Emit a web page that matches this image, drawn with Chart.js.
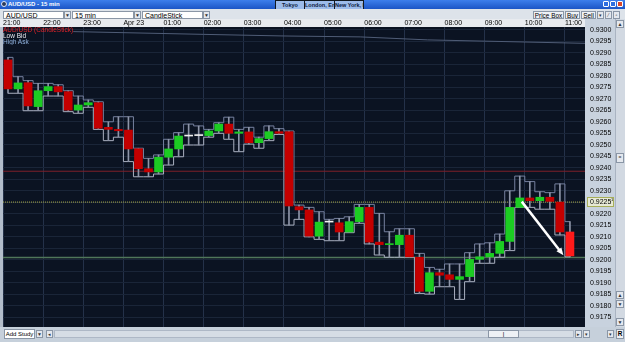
<!DOCTYPE html>
<html>
<head>
<meta charset="utf-8">
<script src="https://cdn.jsdelivr.net/npm/chart.js@4.4.1/dist/chart.umd.min.js"></script>
<style>
body{margin:0;width:625px;height:342px;overflow:hidden;background:#c9d3de;position:relative;font-family:"Liberation Sans",Arial,sans-serif}
.a{position:absolute;box-sizing:border-box;white-space:nowrap;overflow:hidden}
#titlebar{left:0;top:0;width:625px;height:9px;background:linear-gradient(#3d7fec,#1b55c6)}
#ttl{left:8px;top:0;font-size:6px;line-height:9px;color:#fff;font-weight:bold}
#ico{left:1px;top:1px;width:6px;height:6px;border-radius:3px;background:#2a3a5a;border:1px solid #dfe8f8}
.clk{top:0;height:17px;border:1px solid #101820;background:#d9dee6}
.clk .c{left:0;top:0;width:100%;height:8px;background:#9cbbea;font-size:5.5px;line-height:8px;text-align:center;color:#0a1a40;font-weight:bold}
.clk .v{left:1px;top:9px;right:1px;height:6px;background:#fff;border:1px solid #606870;font-size:4.5px;line-height:5px;text-align:center;color:#000}
.wb{top:1px;width:6px;height:6px;border:1px solid #fff;border-radius:1px;background:#2f6fe0}
#toolbar{left:0;top:9px;width:625px;height:10px;background:#dde3ea}
.dd{top:11px;height:8px;background:#fff;border:1px solid #8a96a6;font-size:7px;line-height:7px;padding-left:2px;color:#000}
.db{top:11px;height:8px;width:7px;background:#e4e8ee;border:1px solid #8a96a6;font-size:5px;line-height:6px;text-align:center;color:#333}
.btn{top:11px;height:8px;background:#eef1f5;border:1px solid #8a96a6;font-size:6.4px;line-height:7px;text-align:center;color:#000}
#legend{left:3px;top:27px;font-size:6.5px;line-height:6px}
#vscroll{left:615px;top:19px;width:10px;height:308px;background:#d2d9e2;border-left:1px solid #aab4c2}
#bottombar{left:0;top:327px;width:625px;height:15px;background:#c6d0db}
canvas{position:absolute;left:0;top:19px}
</style>
</head>
<body>
<div class="a" id="titlebar"></div>
<div class="a" id="ico"></div>
<div class="a" id="ttl">AUD/USD - 15 min</div>
<div class="a clk" style="left:275px;width:30px"><div class="a c">Tokyo</div><div class="a v">Fri 7:06 pm</div></div>
<div class="a clk" style="left:304px;width:31px"><div class="a c">London, Eng</div><div class="a v">Fri 11:06 am</div></div>
<div class="a clk" style="left:334px;width:30px"><div class="a c">New York, NY</div><div class="a v">Fri 6:06 am</div></div>
<div class="a wb" style="left:603px"></div>
<div class="a wb" style="left:610px"></div>
<div class="a wb" style="left:617px;background:#d8472c"></div>

<div class="a" id="toolbar"></div>
<div class="a dd" style="left:3px;width:61px">AUD/USD</div><div class="a db" style="left:64px">▼</div>
<div class="a dd" style="left:72px;width:62px">15 min</div><div class="a db" style="left:134px">▼</div>
<div class="a dd" style="left:142px;width:61px">CandleStick</div><div class="a db" style="left:203px">▼</div>
<div class="a btn" style="left:533px;width:31px">Price Box</div>
<div class="a btn" style="left:565px;width:15px">Buy</div>
<div class="a btn" style="left:581px;width:15px">Sell</div>
<div class="a db" style="left:597px">▾</div>
<div class="a db" style="left:605px">⁄</div>
<div class="a db" style="left:613px">▫</div>

<canvas id="chart" width="615" height="308"></canvas>

<div class="a" id="legend">
  <div style="color:#e0242a">AUD/USD (CandleStick)</div>
  <div style="color:#e8e8ee">Low Bid</div>
  <div style="color:#8fb0dc">High Ask</div>
</div>

<div class="a" id="vscroll"></div>
<div class="a db" style="left:616px;top:20px;width:8px">▲</div>
<div class="a db" style="left:616px;top:153px;width:8px;height:10px">=</div>
<div class="a db" style="left:616px;top:291px;width:8px">▲</div>
<div class="a db" style="left:616px;top:300px;width:8px">▼</div>
<div class="a db" style="left:616px;top:318px;width:8px">▼</div>

<div class="a" id="bottombar"></div>
<div class="a btn" style="left:4px;top:329px;width:31px;height:10px;line-height:9px;font-size:6px;background:#fff">Add Study</div>
<div class="a db" style="left:36px;top:330px">▼</div>
<div class="a db" style="left:46px;top:330px">◂</div>
<div class="a" style="left:54px;top:330px;width:520px;height:8px;background:#d6dde5;border:1px solid #aeb8c6"></div>
<div class="a btn" style="left:488px;top:330px;width:31px;font-size:6px">|</div>
<div class="a db" style="left:575px;top:330px">▸</div>
<div class="a db" style="left:583px;top:330px">▾</div>
<div class="a db" style="left:607px;top:330px">▾</div>
<div class="a btn" style="left:616px;top:329px;width:8px;height:10px;font-weight:bold">R</div>

<script>
// hour labels on top axis, one every 4 candles (15 min bars)
const hourLabels = ['21:00', '22:00', '23:00', 'Apr 23', '01:00', '02:00', '03:00', '04:00',
                    '05:00', '06:00', '07:00', '08:00', '09:00', '10:00', '11:00'];

// AUD/USD 15 min candles, 21:00 -> 11:00
const opens = [0.92869, 0.92743, 0.92770, 0.92666, 0.92735, 0.92753, 0.92731, 0.92651, 0.92673, 0.92683,
               0.92576, 0.92567, 0.92564, 0.92483, 0.92396, 0.92382, 0.92446, 0.92482, 0.92538, 0.92540,
               0.92540, 0.92560, 0.92590, 0.92550, 0.92556, 0.92509, 0.92527, 0.92557, 0.92557, 0.92231,
               0.92217, 0.92103, 0.92164, 0.92161, 0.92121, 0.92166, 0.92228, 0.92077, 0.92066, 0.92066,
               0.92107, 0.92011, 0.91863, 0.91944, 0.91935, 0.91915, 0.91927, 0.92002, 0.92013, 0.92028,
               0.92080, 0.92228, 0.92269, 0.92257, 0.92272, 0.92251, 0.92121];
const closes = [0.92743, 0.92769, 0.92669, 0.92735, 0.92753, 0.92730, 0.92651, 0.92673, 0.92683, 0.92572,
                0.92567, 0.92561, 0.92482, 0.92396, 0.92382, 0.92446, 0.92482, 0.92538, 0.92538, 0.92540,
                0.92560, 0.92590, 0.92550, 0.92556, 0.92509, 0.92527, 0.92557, 0.92550, 0.92234, 0.92217,
                0.92103, 0.92164, 0.92164, 0.92121, 0.92166, 0.92228, 0.92077, 0.92066, 0.92070, 0.92107,
                0.92013, 0.91863, 0.91944, 0.91933, 0.91915, 0.91927, 0.92002, 0.92013, 0.92028, 0.92080,
                0.92228, 0.92269, 0.92257, 0.92272, 0.92254, 0.92121, 0.92017];
const highs = [0.92880, 0.92796, 0.92779, 0.92767, 0.92767, 0.92761, 0.92735, 0.92712, 0.92695, 0.92687,
               0.92600, 0.92622, 0.92622, 0.92485, 0.92441, 0.92456, 0.92524, 0.92553, 0.92590, 0.92582,
               0.92567, 0.92596, 0.92620, 0.92567, 0.92576, 0.92533, 0.92582, 0.92570, 0.92560, 0.92238,
               0.92228, 0.92209, 0.92176, 0.92180, 0.92187, 0.92241, 0.92241, 0.92202, 0.92122, 0.92135,
               0.92135, 0.92028, 0.91967, 0.91959, 0.91982, 0.91982, 0.92031, 0.92069, 0.92074, 0.92112,
               0.92300, 0.92364, 0.92340, 0.92296, 0.92292, 0.92330, 0.92166];
const lows = [0.92724, 0.92724, 0.92648, 0.92648, 0.92712, 0.92712, 0.92644, 0.92637, 0.92663, 0.92567,
              0.92518, 0.92533, 0.92427, 0.92361, 0.92361, 0.92373, 0.92412, 0.92448, 0.92499, 0.92499,
              0.92533, 0.92550, 0.92524, 0.92470, 0.92503, 0.92485, 0.92518, 0.92545, 0.92151, 0.92176,
              0.92100, 0.92089, 0.92083, 0.92083, 0.92118, 0.92159, 0.92069, 0.92021, 0.92011, 0.92011,
              0.92011, 0.91854, 0.91851, 0.91883, 0.91883, 0.91828, 0.91905, 0.91985, 0.91985, 0.92011,
              0.92040, 0.92228, 0.92228, 0.92220, 0.92220, 0.92108, 0.92013];

// horizontal levels
const levelRed = 0.92385;
const lastPrice = 0.92251;
const levelGreen = 0.92010;

// faint line near the top of the chart
const topLineX = [6.5, 19.5, 27.5, 35.1, 41.8, 57.5];
const topLineY = [0.92992, 0.92980, 0.92973, 0.92969, 0.92956, 0.92941];

// drawn arrow (candle index, price)
const arrowFrom = [51.2, 0.92253];
const arrowTo = [55.35, 0.92020];

const xMin = -0.5, xMax = 57.5;
const idx = opens.map((_, i) => i);

const bodyColors = idx.map(i => {
    if (i === idx.length - 1) return '#ff1a1a';
    if (closes[i] > opens[i]) return '#1ccc22';
    if (closes[i] < opens[i]) return '#c40000';
    return '#f0f0f0';
});

const levelLine = (y, color, dash, w) => ({
    type: 'line',
    data: [{x: xMin, y: y}, {x: xMax, y: y}],
    borderColor: color,
    borderDash: dash,
    borderWidth: w,
    pointRadius: 0,
    order: 4
});

const chromePlugin = {
    id: 'chrome',
    beforeDraw(chart) {
        const {ctx, chartArea: a, width, height} = chart;
        ctx.save();
        ctx.fillStyle = '#c8d2de';
        ctx.fillRect(0, 0, width, height);
        ctx.fillStyle = '#e8ebef';
        ctx.fillRect(0, 0, a.right, a.top);
        ctx.fillStyle = '#0b1322';
        ctx.fillRect(a.left, a.top, a.right - a.left, a.bottom - a.top);
        ctx.fillStyle = '#b3bdca';
        ctx.fillRect(0, a.top, a.left, a.bottom - a.top);
        // box around current price on the axis
        const y = Math.round(chart.scales.y.getPixelForValue(lastPrice));
        ctx.fillStyle = '#e6e9d4';
        ctx.fillRect(a.right + 2, y - 5, 27, 10);
        ctx.strokeStyle = '#a7ae58';
        ctx.lineWidth = 1;
        ctx.strokeRect(a.right + 2.5, y - 4.5, 26, 9);
        ctx.restore();
    },
    afterDraw(chart) {
        const {ctx, chartArea: a} = chart;
        const y = chart.scales.y.getPixelForValue(lastPrice);
        ctx.save();
        ctx.fillStyle = '#000';
        ctx.font = '4px "Liberation Sans"';
        ctx.fillText('1', a.right + 26, y - 1);
        ctx.restore();
    }
};

const arrowPlugin = {
    id: 'arrow',
    afterDatasetsDraw(chart) {
        const {ctx, scales} = chart;
        const x1 = scales.x.getPixelForValue(arrowFrom[0]), y1 = scales.y.getPixelForValue(arrowFrom[1]);
        const x2 = scales.x.getPixelForValue(arrowTo[0]), y2 = scales.y.getPixelForValue(arrowTo[1]);
        const ang = Math.atan2(y2 - y1, x2 - x1);
        const head = 8;
        ctx.save();
        ctx.strokeStyle = '#ffffff';
        ctx.fillStyle = '#ffffff';
        ctx.lineWidth = 2.5;
        ctx.beginPath();
        ctx.moveTo(x1, y1);
        ctx.lineTo(x2 - Math.cos(ang) * head * 0.8, y2 - Math.sin(ang) * head * 0.8);
        ctx.stroke();
        ctx.beginPath();
        ctx.moveTo(x2, y2);
        ctx.lineTo(x2 - head * Math.cos(ang - 0.4), y2 - head * Math.sin(ang - 0.4));
        ctx.lineTo(x2 - head * Math.cos(ang + 0.4), y2 - head * Math.sin(ang + 0.4));
        ctx.closePath();
        ctx.fill();
        ctx.restore();
    }
};

new Chart(document.getElementById('chart').getContext('2d'), {
    type: 'bar',
    data: {
        datasets: [
            {
                label: 'AUD/USD (CandleStick)',
                data: idx.map(i => ({x: i, y: [opens[i], closes[i]]})),
                backgroundColor: bodyColors,
                barThickness: 8,
                minBarLength: 1,
                grouped: false,
                order: 0
            },
            {
                label: 'wicks',
                data: idx.map(i => ({x: i, y: [lows[i], highs[i]]})),
                backgroundColor: '#8e95a8',
                barThickness: 1,
                grouped: false,
                order: 1
            },
            {
                type: 'line',
                label: 'High Ask',
                data: idx.map(i => ({x: i, y: highs[i]})),
                stepped: 'middle',
                borderColor: '#76819f',
                borderWidth: 1,
                pointRadius: 0,
                order: 2
            },
            {
                type: 'line',
                label: 'Low Bid',
                data: idx.map(i => ({x: i, y: lows[i]})),
                stepped: 'middle',
                borderColor: '#aab0c0',
                borderWidth: 1,
                pointRadius: 0,
                order: 2
            },
            {
                type: 'line',
                data: topLineX.map((x, i) => ({x: x, y: topLineY[i]})),
                borderColor: '#4f5c76',
                borderWidth: 1,
                pointRadius: 0,
                order: 4
            },
            levelLine(levelRed, '#7e2029', [], 1),
            levelLine(lastPrice, '#a9aa48', [1, 1], 1),
            levelLine(levelGreen, '#4f765a', [], 1.5)
        ]
    },
    options: {
        responsive: false,
        animation: false,
        devicePixelRatio: 1,
        layout: {padding: {left: 3}},
        plugins: {legend: {display: false}, tooltip: {enabled: false}},
        scales: {
            x: {
                type: 'linear',
                position: 'top',
                min: xMin,
                max: xMax,
                offset: false,
                grid: {color: '#243149', drawTicks: false, offset: false},
                border: {display: false},
                afterBuildTicks: s => { s.ticks = hourLabels.map((_, k) => ({value: xMin + 4 * k})); },
                afterFit: s => { s.height = 8; s.paddingLeft = 0; s.paddingRight = 0; },
                ticks: {
                    align: 'start',
                    autoSkip: false,
                    maxRotation: 0,
                    padding: 0,
                    color: '#000',
                    font: {family: 'Liberation Sans', size: 7},
                    callback: v => hourLabels[Math.round((v - xMin) / 4)]
                }
            },
            y: {
                position: 'right',
                min: 0.91708,
                max: 0.93012,
                grid: {color: '#1a2538', drawTicks: false},
                border: {display: false},
                afterFit: s => { s.width = 30; s.paddingTop = 0; s.paddingBottom = 0; },
                ticks: {
                    stepSize: 0.0005,
                    includeBounds: false,
                    autoSkip: false,
                    padding: 5,
                    color: '#000',
                    font: {family: 'Liberation Sans', size: 7},
                    callback: v => v.toFixed(4)
                }
            }
        }
    },
    plugins: [chromePlugin, arrowPlugin]
});
</script>
</body>
</html>
